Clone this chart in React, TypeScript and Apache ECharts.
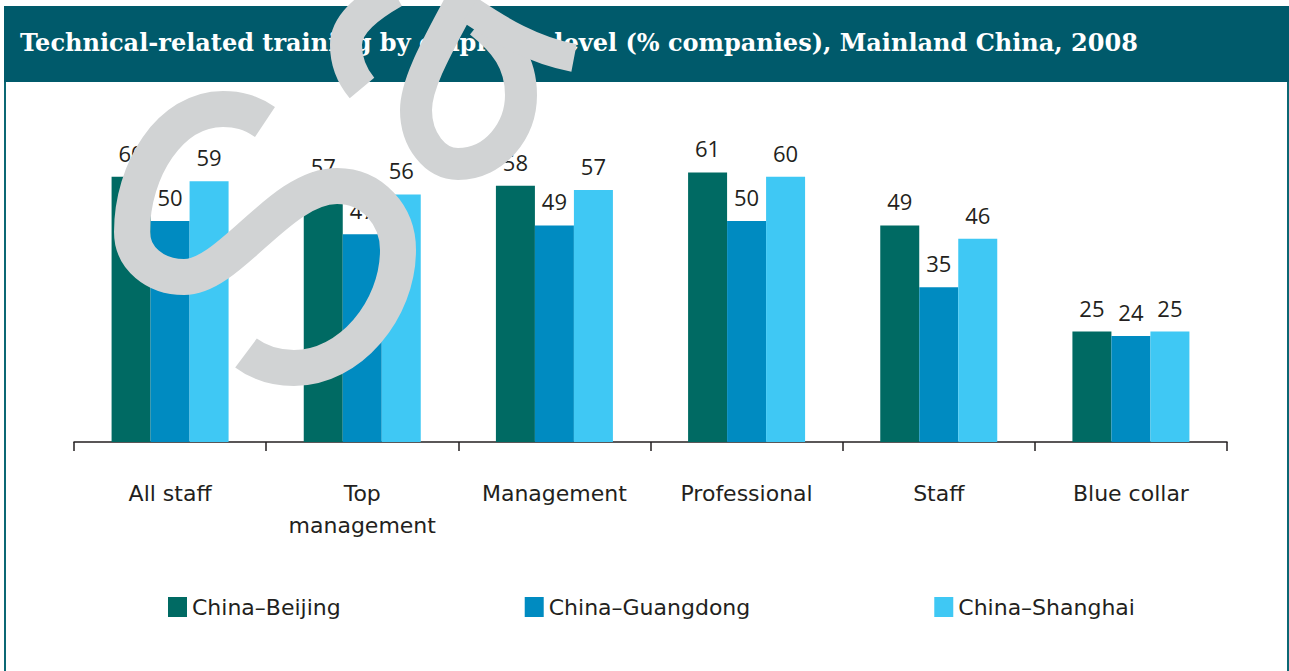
import React, { useEffect, useRef } from "react";
import * as echarts from "echarts";

const titleText = "Technical-related training by employee level (% companies), Mainland China, 2008";
const categories = ["All staff", "Top\nmanagement", "Management", "Professional", "Staff", "Blue collar"];
const seriesNames = ["China–Beijing", "China–Guangdong", "China–Shanghai"];
const beijing = [60, 57, 58, 61, 49, 25];
const guangdong = [50, 47, 49, 50, 35, 24];
const shanghai = [59, 56, 57, 60, 46, 25];
const seriesColors = ["#006A63", "#008BC1", "#3FC8F4"];

const wmS =
  "M265,122 C250,112 238,109 223,109 C170,109 132,170 132,232 C132,258 155,277 184,277 C230,277 280,186 337,186 C372,186 398,215 398,250 C398,310 350,368 294,368 C275,368 258,362 246,353";
const wmC = "M394,-8 C366,8 346,25 346,45 C346,62 352,76 362,88";
const wmLoop =
  "M466,-8 C444,35 416,80 416,110 C416,140 435,164 458,164 C495,164 521,130 521,95 C521,62 505,42 480,22";
const wmTail = "M470,10 C500,30 532,50 574,58";

let registered = false;
function registerShapes() {
  if (registered) return;
  echarts.graphic.registerShape("wmS", echarts.graphic.extendPath(wmS, {}));
  echarts.graphic.registerShape("wmC", echarts.graphic.extendPath(wmC, {}));
  echarts.graphic.registerShape("wmLoop", echarts.graphic.extendPath(wmLoop, {}));
  echarts.graphic.registerShape("wmTail", echarts.graphic.extendPath(wmTail, {}));
  registered = true;
}

export default function App() {
  const ref = useRef<HTMLDivElement>(null);
  useEffect(() => {
    if (!ref.current) return;
    registerShapes();
    const chart = echarts.init(ref.current, null, { renderer: "svg" });
    const textColor = "#231F20";
    const labelCfg = {
      show: true,
      position: "top",
      distance: 13,
      fontSize: 22,
      lineHeight: 22,
      color: textColor,
      fontFamily: "Open Sans",
    };
    const datasets = [beijing, guangdong, shanghai];
    const wmStyle = (w: number) => ({ fill: "none", stroke: "#D1D3D4", lineWidth: w });
    chart.setOption({
      animation: false,
      backgroundColor: "#ffffff",
      grid: { left: 74, right: 62, top: 132.6, bottom: 229, containLabel: false },
      xAxis: {
        type: "category",
        data: categories,
        axisLine: { show: true, lineStyle: { color: textColor, width: 1.5 } },
        axisTick: { show: true, length: 9, lineStyle: { color: textColor, width: 1.5 } },
        axisLabel: {
          interval: 0,
          margin: 35,
          fontSize: 22,
          lineHeight: 32,
          color: textColor,
          fontFamily: "DejaVu Sans",
        },
      },
      yAxis: { type: "value", min: 0, max: 70, show: false, splitLine: { show: false } },
      legend: {
        left: 168,
        top: 596,
        padding: 0,
        itemWidth: 19,
        itemHeight: 20,
        itemGap: 184,
        icon: "rect",
        textStyle: { fontSize: 22, color: textColor, fontFamily: "DejaVu Sans" },
        data: seriesNames,
      },
      series: seriesNames.map((name, i) => ({
        name,
        type: "bar",
        data: datasets[i],
        barWidth: 39,
        barGap: "0%",
        itemStyle: { color: seriesColors[i] },
        label: labelCfg,
      })),
      graphic: [
        { type: "rect", z: 0, shape: { x: 4, y: 6, width: 1285, height: 76 }, style: { fill: "#005A6B" } },
        { type: "line", z: 0, shape: { x1: 5, y1: 82, x2: 5, y2: 671 }, style: { stroke: "#0B6874", lineWidth: 2 } },
        { type: "line", z: 0, shape: { x1: 1288, y1: 82, x2: 1288, y2: 671 }, style: { stroke: "#0B6874", lineWidth: 2 } },
        {
          type: "text",
          z: 1,
          x: 20,
          y: 42,
          style: {
            text: titleText,
            fill: "#ffffff",
            font: "bold 24px 'DejaVu Serif'",
            textVerticalAlign: "middle",
          },
        },
        { type: "wmS", z: 100, x: 0, y: 0, style: wmStyle(36) },
        { type: "wmC", z: 100, x: 0, y: 0, style: wmStyle(32) },
        { type: "wmLoop", z: 100, x: 0, y: 0, style: wmStyle(32) },
        { type: "wmTail", z: 100, x: 0, y: 0, style: wmStyle(28) },
      ],
    });
    return () => chart.dispose();
  }, []);
  return <div ref={ref} style={{ position: "absolute", left: 0, top: 0, width: 1289, height: 671 }} />;
}
